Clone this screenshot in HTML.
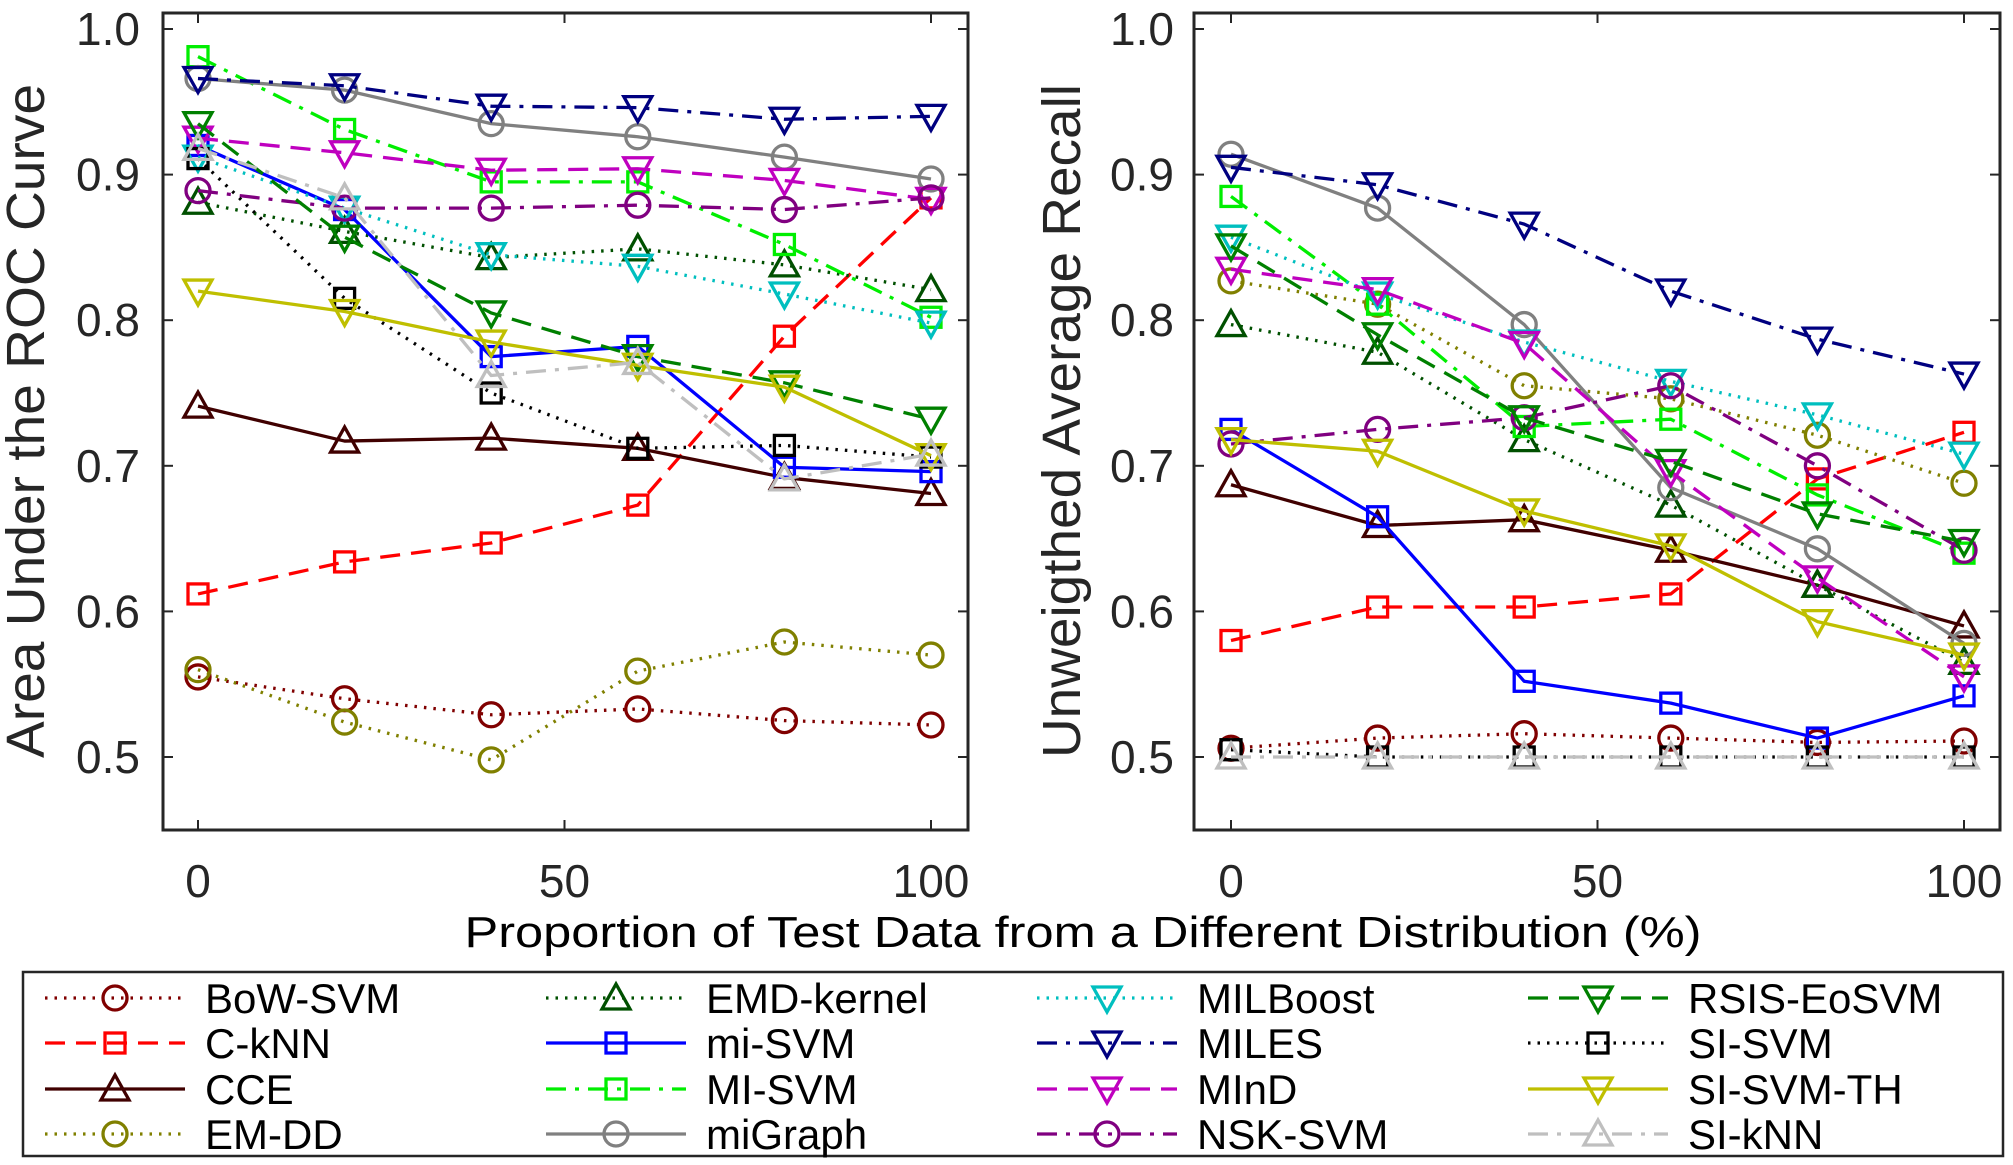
<!DOCTYPE html>
<html><head><meta charset="utf-8"><style>
html,body{margin:0;padding:0;background:#fff;}
svg{display:block;font-family:"Liberation Sans",Arial,sans-serif;}
</style></head><body>
<svg id="chart" width="2013" height="1165" viewBox="0 0 2013 1165" xmlns="http://www.w3.org/2000/svg"></svg>
<script>
const xValues = [0, 20, 40, 60, 80, 100];
const seriesNames = ["BoW-SVM","C-kNN","CCE","EM-DD","EMD-kernel","mi-SVM","MI-SVM","miGraph","MILBoost","MILES","MInD","NSK-SVM","RSIS-EoSVM","SI-SVM","SI-SVM-TH","SI-kNN"];
const aucBoW = [0.555,0.540,0.529,0.533,0.525,0.522];
const aucCkNN = [0.612,0.634,0.647,0.673,0.789,0.884];
const aucCCE = [0.741,0.717,0.719,0.712,0.692,0.681];
const aucEMDD = [0.560,0.524,0.498,0.559,0.579,0.570];
const aucEMDk = [0.881,0.861,0.843,0.849,0.838,0.821];
const aucmiSVM = [0.920,0.876,0.775,0.782,0.699,0.696];
const aucMISVM = [0.981,0.931,0.895,0.895,0.852,0.802];
const aucmiGraph = [0.966,0.958,0.935,0.926,0.912,0.897];
const aucMILBoost = [0.912,0.877,0.845,0.837,0.818,0.798];
const aucMILES = [0.966,0.961,0.947,0.946,0.938,0.940];
const aucMInD = [0.925,0.915,0.903,0.904,0.896,0.883];
const aucNSK = [0.889,0.877,0.877,0.879,0.876,0.884];
const aucRSIS = [0.935,0.857,0.805,0.775,0.757,0.732];
const aucSISVM = [0.911,0.815,0.750,0.712,0.714,0.706];
const aucSITH = [0.820,0.806,0.785,0.769,0.754,0.707];
const aucSIkNN = [0.918,0.884,0.762,0.771,0.691,0.708];
const uarBoW = [0.506,0.513,0.516,0.513,0.510,0.511];
const uarCkNN = [0.580,0.603,0.603,0.612,0.691,0.723];
const uarCCE = [0.687,0.659,0.663,0.642,0.618,0.590];
const uarEMDD = [0.827,0.811,0.755,0.746,0.721,0.688];
const uarEMDk = [0.797,0.778,0.718,0.673,0.618,0.565];
const uarmiSVM = [0.725,0.665,0.552,0.537,0.513,0.542];
const uarMISVM = [0.885,0.811,0.727,0.732,0.680,0.640];
const uarmiGraph = [0.914,0.877,0.797,0.685,0.643,0.578];
const uarMILBoost = [0.857,0.818,0.785,0.758,0.735,0.708];
const uarMILES = [0.905,0.893,0.866,0.820,0.787,0.763];
const uarMInD = [0.835,0.821,0.784,0.696,0.623,0.555];
const uarNSK = [0.715,0.725,0.733,0.755,0.700,0.642];
const uarRSIS = [0.851,0.790,0.733,0.703,0.667,0.648];
const uarSISVM = [0.505,0.500,0.500,0.500,0.500,0.500];
const uarSITH = [0.718,0.710,0.669,0.645,0.593,0.570];
const uarSIkNN = [0.500,0.500,0.500,0.500,0.500,0.500];
const yTicks = [0.5,0.6,0.7,0.8,0.9,1.0];
const yTickLabels = ["0.5","0.6","0.7","0.8","0.9","1.0"];
const xTicks = [0,50,100];
const xTickLabels = ["0","50","100"];

const aucData = [aucBoW,aucCkNN,aucCCE,aucEMDD,aucEMDk,aucmiSVM,aucMISVM,aucmiGraph,aucMILBoost,aucMILES,aucMInD,aucNSK,aucRSIS,aucSISVM,aucSITH,aucSIkNN];
const uarData = [uarBoW,uarCkNN,uarCCE,uarEMDD,uarEMDk,uarmiSVM,uarMISVM,uarmiGraph,uarMILBoost,uarMILES,uarMInD,uarNSK,uarRSIS,uarSISVM,uarSITH,uarSIkNN];
const DOT="2.5,7", DASH="20,11", DD="20,9,4,9", SOL="";
const styles = [
 {c:"#800000",d:DOT,m:"o"},{c:"#ff0000",d:DASH,m:"s"},{c:"#400000",d:SOL,m:"^"},{c:"#808000",d:DOT,m:"o"},
 {c:"#005000",d:DOT,m:"^"},{c:"#0000ff",d:SOL,m:"s"},{c:"#00ee00",d:DD,m:"s"},{c:"#808080",d:SOL,m:"o"},
 {c:"#00bfbf",d:DOT,m:"v"},{c:"#000080",d:DD,m:"v"},{c:"#bf00bf",d:DASH,m:"v"},{c:"#800080",d:DD,m:"o"},
 {c:"#008000",d:DASH,m:"v"},{c:"#000000",d:DOT,m:"s"},{c:"#bfbf00",d:SOL,m:"v"},{c:"#bfbfbf",d:DD,m:"^"}
];
const NS="http://www.w3.org/2000/svg";
const svg=document.getElementById('chart');
const LW=3.3;
function mk(tag,attrs,parent){const e=document.createElementNS(NS,tag);for(const k in attrs)e.setAttribute(k,attrs[k]);(parent||svg).appendChild(e);return e;}
function marker(g,type,x,y,c){
  let e;
  if(type==="o") e=mk('circle',{cx:x,cy:y,r:12,fill:'none',stroke:c,'stroke-width':LW},g);
  else if(type==="s") e=mk('rect',{x:x-10,y:y-10,width:20,height:20,fill:'none',stroke:c,'stroke-width':LW},g);
  else if(type==="^") e=mk('polygon',{points:`${x},${y-14} ${x-14},${y+11} ${x+14},${y+11}`,fill:'none',stroke:c,'stroke-width':LW},g);
  else e=mk('polygon',{points:`${x},${y+14} ${x-14},${y-11} ${x+14},${y-11}`,fill:'none',stroke:c,'stroke-width':LW},g);
  
  
}
function panel(name,L,R,x0px,x100px,data,ylabel,ylabX,tickRight){
  const T=13,B=830;
  const sx=v=>x0px+(x100px-x0px)*v/100;
  const sy=v=>757-(v-0.5)*1456;
  const g=mk('g',{});
  
  
  for(let i=0;i<yTicks.length;i++){
    const y=sy(yTicks[i]);
    const t=mk('line',{x1:L,x2:L+10,y1:y,y2:y,stroke:'#262626','stroke-width':2},g);
    
    mk('line',{x1:R,x2:R-10,y1:y,y2:y,stroke:'#262626','stroke-width':2},g);
    const tx=mk('text',{x:tickRight,y:y+16,'text-anchor':'end','font-size':46,fill:'#262626'},g);
    tx.textContent=yTickLabels[i];
    
  }
  for(let i=0;i<xTicks.length;i++){
    const x=sx(xTicks[i]);
    mk('line',{x1:x,x2:x,y1:B,y2:B-10,stroke:'#262626','stroke-width':2},g);
    mk('line',{x1:x,x2:x,y1:T,y2:T+10,stroke:'#262626','stroke-width':2},g);
    const tx=mk('text',{x:x,y:897,'text-anchor':'middle','font-size':46,fill:'#262626'},g);
    tx.textContent=xTickLabels[i];
    
  }
  const yl=mk('text',{x:0,y:0,'text-anchor':'middle','font-size':54,fill:'#262626',transform:`translate(${ylabX},421) rotate(-90)`,textLength:674,lengthAdjust:'spacingAndGlyphs'},g);
  yl.textContent=ylabel;
  
  for(let s=0;s<data.length;s++){
    const st=styles[s];
    const sg=mk('g',{},g);
    
    
    const pts=data[s].map((v,i)=>sx(xValues[i])+','+sy(v)).join(' ');
    const pl=mk('polyline',{points:pts,fill:'none',stroke:st.c,'stroke-width':LW,'stroke-dasharray':st.d||'none','stroke-linejoin':'round'},sg);
    
    data[s].forEach((v,i)=>marker(sg,st.m,sx(xValues[i]),sy(v),st.c));
  }
  const fr=mk('rect',{x:L,y:T,width:R-L,height:B-T,fill:'none',stroke:'#262626','stroke-width':3},g);
  
}
panel('auc-panel',163,968,198,931,aucData,'Area Under the ROC Curve',44,140);
panel('uar-panel',1194,2000,1231,1964,uarData,'Unweigthed Average Recall',1080,1174);
const xl=mk('text',{x:1083,y:947,'text-anchor':'middle','font-size':44,fill:'#000',textLength:1237,lengthAdjust:'spacingAndGlyphs'});
xl.textContent='Proportion of Test Data from a Different Distribution (%)';

const lg=mk('g',{});

const lb=mk('rect',{x:23,y:972,width:1980,height:184,fill:'#fff',stroke:'#262626','stroke-width':2.5},lg);

const colX=[45,546,1037,1528];
const rowY=[998,1043,1089,1134];
for(let s=0;s<16;s++){
  const c=Math.floor(s/4), r=s%4, st=styles[s];
  const x=colX[c], y=rowY[r];
  const eg=mk('g',{},lg);
  
  
  mk('line',{x1:x,x2:x+140,y1:y,y2:y,stroke:st.c,'stroke-width':LW,'stroke-dasharray':st.d||'none'},eg);
  marker(eg,st.m,x+70,y,st.c);
  const t=mk('text',{x:x+160,y:y+15,'font-size':42,fill:'#000'},eg);
  t.textContent=seriesNames[s];
  
}
</script>
</body></html>
